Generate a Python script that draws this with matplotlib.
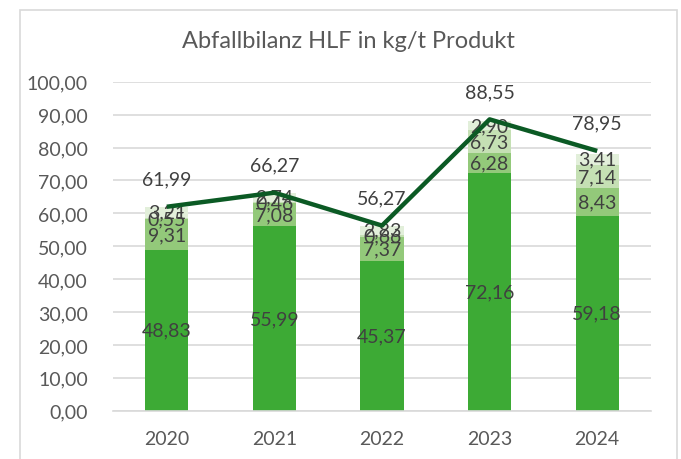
import matplotlib.pyplot as plt
from matplotlib.patches import Rectangle
import numpy as np

years = ['2020', '2021', '2022', '2023', '2024']
seg1 = [48.83, 55.99, 45.37, 72.16, 59.18]
seg2 = [9.31, 7.08, 7.37, 6.28, 8.43]
seg3 = [0.55, 0.46, 0.66, 6.73, 7.14]
seg4 = [3.21, 2.74, 2.83, 2.90, 3.41]
totals = [61.99, 66.27, 56.27, 88.55, 78.95]
yticks = [0, 10, 20, 30, 40, 50, 60, 70, 80, 90, 100]

seg_colors = ['#3DAA35', '#93C97A', '#C5E0B4', '#E2EFDA']
LINE_COLOR = '#0B5A24'
TEXT_DARK = '#404040'
TEXT_GRAY = '#595959'
GRID = '#D9D9D9'

plt.rcParams['font.family'] = ['Lato', 'DejaVu Sans']


def fmt(v):
    return f'{v:.2f}'.replace('.', ',')


fig = plt.figure(figsize=(6.81, 4.60), dpi=100)
fig.patches.append(Rectangle((20 / 681, -0.05), 657 / 681, 1 - 11 / 460 + 0.05,
                             transform=fig.transFigure, fill=False,
                             edgecolor=GRID, linewidth=1.2))

ax = fig.add_axes([113 / 681, 1 - 411.7 / 460, 538 / 681, 329 / 460])
x = np.arange(len(years))
bottom = np.zeros(len(years))
for seg, col in zip([seg1, seg2, seg3, seg4], seg_colors):
    vals = np.array(seg)
    ax.bar(x, vals, width=0.4, bottom=bottom, color=col, zorder=2)
    for xi, b, v in zip(x, bottom, vals):
        ax.text(xi, b + v / 2, fmt(v), ha='center', va='center',
                fontsize=14, color=TEXT_DARK, zorder=3)
    bottom += vals

ax.plot(x, totals, color=LINE_COLOR, linewidth=3.2, zorder=4,
        solid_capstyle='butt')
for xi, t in zip(x, totals):
    ax.annotate(fmt(t), (xi, t), xytext=(0, 20), textcoords='offset points',
                ha='center', va='center', fontsize=14, color=TEXT_DARK)

ax.set_xlim(-0.5, len(years) - 0.5)
ax.set_ylim(0, 100)
ax.set_yticks(yticks)
ax.set_yticklabels([fmt(v) for v in yticks])
ax.set_xticks(x)
ax.set_xticklabels(years)
ax.tick_params(axis='both', length=0, labelsize=14, colors=TEXT_GRAY)
ax.tick_params(axis='y', pad=18)
ax.tick_params(axis='x', pad=14)
ax.grid(axis='y', color=GRID, linewidth=1.2, zorder=0)
ax.set_axisbelow(True)
for side in ['top', 'right', 'left']:
    ax.spines[side].set_visible(False)
ax.spines['bottom'].set_color(GRID)
ax.spines['bottom'].set_linewidth(1.2)

fig.text(348 / 681, 1 - 42 / 460, 'Abfallbilanz HLF in kg/t Produkt',
         ha='center', va='center', fontsize=17, color=TEXT_GRAY)

fig.savefig('out.png', dpi=100)
